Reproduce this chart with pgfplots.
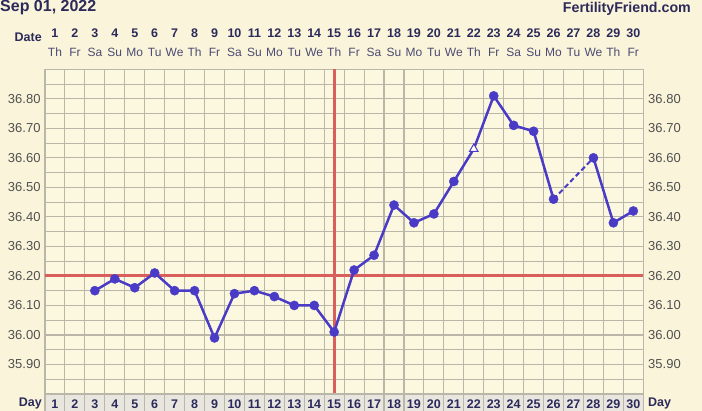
\documentclass[border=0pt]{standalone}
\usepackage{pgfplots}
\pgfplotsset{compat=1.18}
\usepackage{fontspec}
\setmainfont{Liberation Sans}
\definecolor{bg}{HTML}{FAF5DA}
\definecolor{plotbg}{HTML}{FCF8E0}
\definecolor{gridc}{HTML}{BAB7A9}
\definecolor{linec}{HTML}{4A3BC6}
\definecolor{redc}{HTML}{DA5E5C}
\definecolor{navy}{HTML}{2C2A5A}
\definecolor{labc}{HTML}{505050}
\definecolor{cellc}{HTML}{E8E6DF}
\begin{document}
\begin{tikzpicture}[x=1pt,y=1pt]
\fill[bg] (0,0) rectangle (702,411);
\useasboundingbox (0,0) rectangle (702,411);
% bottom day row cells
\fill[cellc] (45,0) rectangle (643.3,17);
\foreach \k in {0,...,30} {\draw[gridc, line width=1.1pt] ({45+\k*19.943},0) -- ({45+\k*19.943},17);}
\begin{axis}[at={(45pt,17pt)}, anchor=south west,
  width=598.3pt, height=324.7pt, scale only axis,
  xmin=0.5, xmax=30.5, ymin=35.8, ymax=36.9,
  axis background/.style={fill=plotbg},
  xtick={0.5,1.5,...,30.5},
  ytick={35.8,35.85,35.9,35.95,36.0,36.05,36.1,36.15,36.2,36.25,36.3,36.35,36.4,36.45,36.5,36.55,36.6,36.65,36.7,36.75,36.8,36.85,36.9},
  xticklabels={}, yticklabels={},
  major tick length=0pt,
  grid=major,
  grid style={gridc, line width=1.1pt},
  axis line style={gridc, line width=1.1pt},
  clip=false,
]
\addplot[redc, line width=3pt] coordinates {(0.5,36.2) (30.5,36.2)};
\addplot[redc, line width=3pt] coordinates {(15,35.8) (15,36.9)};
\addplot[linec, line width=2.5pt, no marks] coordinates {
(3,36.15) (4,36.19) (5,36.16) (6,36.21) (7,36.15) (8,36.15) (9,35.99) (10,36.14)
(11,36.15) (12,36.13) (13,36.10) (14,36.10) (15,36.01) (16,36.22) (17,36.27)
(18,36.44) (19,36.38) (20,36.41) (21,36.52) (22,36.63) (23,36.81) (24,36.71)
(25,36.69) (26,36.46)};
\addplot[linec, line width=2pt, dashed, dash pattern=on 5pt off 3pt, no marks] coordinates {(26,36.46) (28,36.60)};
\addplot[linec, line width=2.5pt, no marks] coordinates {(28,36.60) (29,36.38) (30,36.42)};
\addplot[only marks, mark=*, mark size=4.6pt, mark options={fill=linec, draw=linec}] coordinates {
(3,36.15) (4,36.19) (5,36.16) (6,36.21) (7,36.15) (8,36.15) (9,35.99) (10,36.14)
(11,36.15) (12,36.13) (13,36.10) (14,36.10) (15,36.01) (16,36.22) (17,36.27)
(18,36.44) (19,36.38) (20,36.41) (21,36.52) (23,36.81) (24,36.71)
(25,36.69) (26,36.46) (28,36.60) (29,36.38) (30,36.42)};
\addplot[only marks, mark=triangle*, mark size=5pt, mark options={fill=white, draw=linec, line width=1pt}] coordinates {(22,36.63)};
\end{axis}
\draw[gridc, line width=1.1pt] (45,17) -- (643.3,17);
% titles
\node[anchor=west, inner sep=0, text=navy, font=\fontsize{16}{18}\selectfont\bfseries] at (0,403) {Sep 01, 2022};
\node[anchor=east, inner sep=0, text=navy, font=\fontsize{14.2}{16}\selectfont\bfseries] at (691,402.5) {FertilityFriend.com};
\node[anchor=east, inner sep=0, text=navy, font=\fontsize{12.5}{14}\selectfont\bfseries] at (42,373.5) {Date};
\node[anchor=east, inner sep=0, text=navy, font=\fontsize{12.5}{14}\selectfont\bfseries] at (42,7) {Day};
\node[anchor=west, inner sep=0, text=navy, font=\fontsize{12.5}{14}\selectfont\bfseries] at (648,7) {Day};
\foreach \i in {1,...,30} {
  \node[inner sep=0, text=navy, font=\fontsize{12.5}{14}\selectfont\bfseries] at ({45+(\i-0.5)*19.943},378) {\i};
  \node[inner sep=0, text=navy, font=\fontsize{12.5}{14}\selectfont\bfseries] at ({45+(\i-0.5)*19.943},7) {\i};
}
\foreach \d [count=\i] in {Th,Fr,Sa,Su,Mo,Tu,We,Th,Fr,Sa,Su,Mo,Tu,We,Th,Fr,Sa,Su,Mo,Tu,We,Th,Fr,Sa,Su,Mo,Tu,We,Th,Fr} {
  \node[inner sep=0, text=navy!85!white, font=\fontsize{12}{14}\selectfont] at ({45+(\i-0.5)*19.943},358.5) {\d};
}
\foreach \v/\t in {35.9/35.90,36.0/36.00,36.1/36.10,36.2/36.20,36.3/36.30,36.4/36.40,36.5/36.50,36.6/36.60,36.7/36.70,36.8/36.80} {
  \node[anchor=east, inner sep=0, text=labc, font=\fontsize{13}{15}\selectfont] at (40.7,{17+(\v-35.8)*295.2}) {\t};
  \node[anchor=west, inner sep=0, text=labc, font=\fontsize{13}{15}\selectfont] at (648,{17+(\v-35.8)*295.2}) {\t};
}
\end{tikzpicture}
\end{document}
